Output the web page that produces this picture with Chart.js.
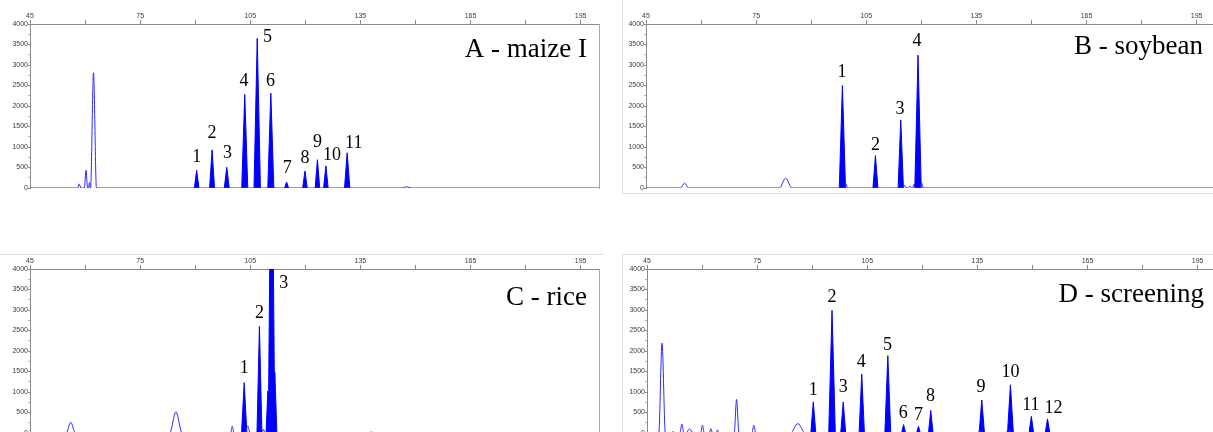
<!DOCTYPE html>
<html>
<head>
<meta charset="utf-8">
<script src="https://cdn.jsdelivr.net/npm/chart.js@4.4.1/dist/chart.umd.min.js"></script>
<style>
  body { margin: 0; background: #fff; }
  #wrap { position: relative; width: 1213px; height: 432px; overflow: hidden; background: #fff; }
  canvas { position: absolute; }
  .frame { position: absolute; background: #dedede; }
</style>
</head>
<body>
<div id="wrap">
  <div class="frame" style="left:622px;top:0;width:1px;height:193px"></div>
  <div class="frame" style="left:622px;top:193px;width:600px;height:1px"></div>
  <div class="frame" style="left:0;top:254px;width:604px;height:1px"></div>
  <div class="frame" style="left:622px;top:254px;width:600px;height:1px"></div>
  <div class="frame" style="left:622px;top:254px;width:1px;height:200px"></div>
  <canvas id="chartA" width="605" height="195" style="left:0;top:0"></canvas>
  <canvas id="chartB" width="605" height="195" style="left:616px;top:0"></canvas>
  <canvas id="chartC" width="605" height="195" style="left:0;top:245px"></canvas>
  <canvas id="chartD" width="605" height="195" style="left:617px;top:245px"></canvas>
</div>
<script>
// axis ticks (size in bp on top, RFU on the left)
const xTickValues = [45, 60, 75, 90, 105, 120, 135, 150, 165, 180, 195];
const yTickValues = [0, 250, 500, 750, 1000, 1250, 1500, 1750, 2000, 2250, 2500, 2750, 3000, 3250, 3500, 3750, 4000];

// A - maize I
const aPeakX = [90.4, 94.6, 98.6, 103.5, 106.9, 110.6, 114.9, 119.9, 123.3, 125.6, 131.4];
const aPeakY = [430, 930, 505, 2285, 3650, 2310, 145, 415, 690, 540, 860];
const aPeakW = [1.25, 1.35, 1.35, 1.65, 1.75, 1.65, 1.1, 1.25, 1.25, 1.25, 1.45];
const aHollowX = [58.4, 60.25, 61.2, 62.3, 147.6];
const aHollowY = [100, 430, 130, 2810, 30];
const aHollowW = [0.9, 0.9, 0.5, 1.6, 2.5];
const aLabelX = [90.4, 94.6, 98.8, 103.3, 109.7, 110.5, 115.05, 119.9, 123.3, 127.3, 133.2];
const aLabelY = [757, 1329, 840, 2607, 3674, 2607, 489, 718, 1124, 799, 1097];

// B - soybean
const bPeakX = [98.5, 107.5, 114.4, 119.1];
const bPeakY = [2500, 790, 1660, 3240];
const bPeakW = [1.7, 1.35, 1.45, 1.75];
const bHollowX = [55.5, 83.05, 99.5, 115.4, 116.9, 118.0, 120.1];
const bHollowY = [120, 240, 100, 70, 50, 90, 120];
const bHollowW = [2.2, 3.4, 0.8, 0.8, 1.0, 0.7, 0.8];
const bLabelX = [98.4, 107.5, 114.2, 118.85];
const bLabelY = [2834, 1043, 1915, 3567];

// C - rice
const cPeakX = [103.35, 107.5, 109.8, 110.8, 111.7];
const cPeakY = [1230, 2600, 1025, 9000, 1475];
const cPeakW = [1.45, 1.35, 1.0, 1.8, 1.1];
const cHollowX = [56.1, 84.75, 100.1, 104.3, 108.6, 138.0];
const cHollowY = [262, 516, 164, 170, 90, 20];
const cHollowW = [2.5, 3.4, 0.9, 1.4, 0.8, 3.0];
const cLabelX = [103.35, 107.5, 114.15];
const cLabelY = [1584, 2911, 3649];

// D - screening
const dPeakX = [90.3, 95.4, 98.45, 103.5, 110.6, 114.9, 118.95, 122.3, 136.2, 144.0, 149.7, 154.1];
const dPeakY = [760, 2990, 755, 1435, 1885, 205, 165, 550, 805, 1175, 405, 345];
const dPeakW = [1.35, 1.8, 1.35, 1.45, 1.6, 1.1, 1.0, 1.25, 1.45, 1.6, 1.25, 1.25];
const dHollowX = [49.1, 52.1, 54.5, 56.6, 60.1, 62.4, 64.2, 69.4, 74.1, 86.1, 135.8, 143.6];
const dHollowY = [2190, 40, 220, 100, 190, 105, 75, 820, 190, 230, 40, 60];
const dHollowW = [1.8, 0.8, 1.1, 2.0, 1.0, 0.9, 0.8, 1.3, 1.1, 4.0, 2.4, 2.4];
const dLabelX = [90.3, 95.4, 98.45, 103.35, 110.5, 114.8, 118.95, 122.2, 136.0, 144.0, 149.55, 155.7];
const dLabelY = [1043, 3320, 1124, 1721, 2132, 492, 435, 902, 1124, 1493, 673, 615];

Chart.defaults.font.family = '"Liberation Sans", Arial, sans-serif';

// peak numbers and the panel title
const peakLabels = {
  id: 'peakLabels',
  afterDatasetsDraw(chart, args, opts) {
    const { ctx, chartArea, scales: { x, y } } = chart;
    ctx.save();
    ctx.fillStyle = '#000';
    ctx.font = '18px "Liberation Serif", "Times New Roman", serif';
    ctx.textAlign = 'center';
    ctx.textBaseline = 'middle';
    opts.xs.forEach((lx, i) => {
      ctx.fillText(String(i + 1), x.getPixelForValue(lx), y.getPixelForValue(opts.ys[i]));
    });
    ctx.font = '27px "Liberation Serif", "Times New Roman", serif';
    ctx.textAlign = 'right';
    ctx.fillText(opts.title, chartArea.right - 12, chartArea.top + opts.titleDy);
    ctx.restore();
  }
};

function makePanel(id, peakX, peakY, peakW, hollowX, hollowY, hollowW, labelX, labelY, title, titleDy) {
  const datasets = [];

  // open trace: baseline plus the unsized peaks
  const trace = [{ x: 45, y: 0 }, { x: 200, y: 0 }];
  hollowX.forEach((x, i) => {
    trace.push({ x: x - hollowW[i] / 2, y: 0 }, { x: x, y: hollowY[i] }, { x: x + hollowW[i] / 2, y: 0 });
  });
  trace.sort((a, b) => a.x - b.x);
  datasets.push({
    data: trace,
    borderColor: '#2b2bff',
    borderWidth: 1,
    pointRadius: 0,
    fill: false,
    cubicInterpolationMode: 'monotone'
  });

  // sized peaks, filled
  peakX.forEach((x, i) => {
    datasets.push({
      data: [{ x: x - peakW[i] / 2, y: 0 }, { x: x, y: peakY[i] }, { x: x + peakW[i] / 2, y: 0 }],
      borderColor: '#0000ff',
      backgroundColor: '#0000ff',
      borderWidth: 1,
      pointRadius: 0,
      fill: 'origin',
      tension: 0
    });
  });

  new Chart(document.getElementById(id), {
    type: 'line',
    data: { datasets },
    plugins: [peakLabels],
    options: {
      responsive: false,
      animation: false,
      devicePixelRatio: 1,
      layout: { padding: { left: 0, right: 6, top: 0, bottom: 7 } },
      plugins: {
        legend: { display: false },
        tooltip: { enabled: false },
        peakLabels: { xs: labelX, ys: labelY, title: title, titleDy: titleDy }
      },
      scales: {
        x: {
          type: 'linear',
          position: 'top',
          min: 45,
          max: 200,
          afterBuildTicks: s => { s.ticks = xTickValues.map(v => ({ value: v })); },
          afterFit: s => { s.height = 24; s.paddingLeft = 0; s.paddingRight = 0; },
          ticks: {
            autoSkip: false,
            maxRotation: 0,
            padding: 0,
            color: '#3a3a3a',
            font: { size: 7 },
            callback: v => ((v - 45) % 30 === 0 ? v : '')
          },
          grid: { drawOnChartArea: false, tickLength: 4, tickColor: '#8a8a8a' },
          border: { color: '#8a8a8a', width: 1 }
        },
        y: {
          min: 0,
          max: 4000,
          afterBuildTicks: s => { s.ticks = yTickValues.map(v => ({ value: v })); },
          afterFit: s => { s.width = 30; s.paddingTop = 0; s.paddingBottom = 0; },
          ticks: {
            autoSkip: false,
            padding: 0,
            color: '#3a3a3a',
            font: { size: 7 },
            callback: v => (v % 500 === 0 ? v : '')
          },
          grid: {
            drawOnChartArea: false,
            tickLength: 2,
            tickColor: c => (c.tick && c.tick.value % 500 === 0 ? '#8a8a8a' : '#b5b5b5')
          },
          border: { color: '#8a8a8a', width: 1 }
        },
        y2: {
          position: 'right',
          display: true,
          ticks: { display: false },
          grid: { display: false },
          afterFit: s => { s.width = 0; s.paddingTop = 0; s.paddingBottom = 0; },
          border: { color: '#a8a8a8', width: 1 }
        }
      }
    }
  });
}

makePanel('chartA', aPeakX, aPeakY, aPeakW, aHollowX, aHollowY, aHollowW, aLabelX, aLabelY, 'A - maize I', 26);
makePanel('chartB', bPeakX, bPeakY, bPeakW, bHollowX, bHollowY, bHollowW, bLabelX, bLabelY, 'B - soybean', 23);
makePanel('chartC', cPeakX, cPeakY, cPeakW, cHollowX, cHollowY, cHollowW, cLabelX, cLabelY, 'C - rice', 29);
makePanel('chartD', dPeakX, dPeakY, dPeakW, dHollowX, dHollowY, dHollowW, dLabelX, dLabelY, 'D - screening', 26);
</script>
</body>
</html>
